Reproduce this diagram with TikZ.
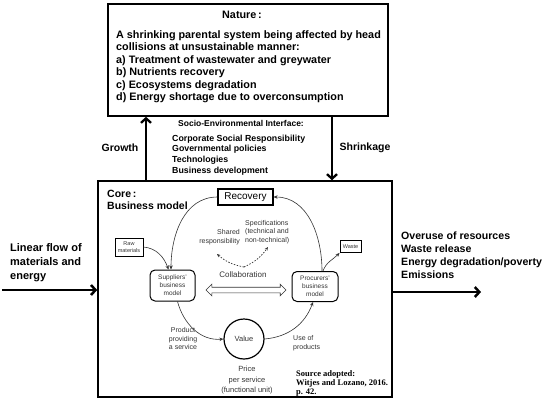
\documentclass[tikz,border=0pt]{standalone}
\usepackage{fontspec}
\setmainfont{Liberation Sans}
\newfontfamily\srcfont{Liberation Serif}
\usetikzlibrary{arrows.meta,shapes.arrows,calc}
\begin{document}
\begin{tikzpicture}[x=1pt,y=-1pt,
  bigbox/.style={draw, line width=1.6pt, inner sep=0pt},
  bigarrow/.style={line width=2.3pt, -{Straight Barb[length=4.5pt,width=10pt]}},
  smalltxt/.style={text=black!80, inner sep=0pt},
  thinarrow/.style={draw=black!80, line width=0.6pt, -{Stealth[length=4pt,width=3.5pt]}},
  rbox/.style={draw=black, line width=1pt, rounded corners=5pt, align=center, inner sep=0pt,
    font=\fontsize{6.5}{8}\selectfont, text=black!80},
  sbox/.style={draw=black, line width=0.9pt, align=center, inner sep=0pt,
    font=\fontsize{5.5}{6.5}\selectfont, text=black!80},
  dasharrow/.style={draw=black!80, line width=0.7pt, dashed, dash pattern=on 1.5pt off 1.5pt,
    -{Stealth[length=3.5pt,width=3pt]}}
]
\useasboundingbox (0,0) rectangle (550,408);

% Nature box
\node[bigbox, minimum width=280pt, minimum height=112pt] (nature) at (248,60) {};
\node[font=\fontsize{10.8}{12.4}\selectfont\bfseries] (naturetitle) at (242,15) {Nature\,:};
\node[anchor=north west, align=left, inner sep=0pt, font=\fontsize{10.8}{12.4}\selectfont\bfseries]
  (naturetext) at (116,30.5)
  {A shrinking parental system being affected by head\\
   collisions at unsustainable manner:\\
   a) Treatment of wastewater and greywater\\
   b) Nutrients recovery\\
   c) Ecosystems degradation\\
   d) Energy shortage due to overconsumption};

% Core box
\node[bigbox, minimum width=294pt, minimum height=216pt] (core) at (245,289) {};
\node[anchor=north west, align=left, inner sep=0pt, font=\fontsize{10.5}{11.5}\selectfont\bfseries]
  (coretitle) at (107,190) {Core\,:\\Business model};

% Interface
\node[font=\fontsize{8.5}{10}\selectfont\bfseries] (socio) at (241,123) {Socio-Environmental Interface:};
\node[anchor=north west, align=left, inner sep=0pt, font=\fontsize{8.8}{10.9}\selectfont\bfseries]
  (sociolist) at (172,134.5)
  {Corporate Social Responsibility\\Governmental policies\\Technologies\\Business development};
\node[font=\fontsize{10.5}{12}\selectfont\bfseries] (growth) at (120,148) {Growth};
\node[font=\fontsize{10.5}{12}\selectfont\bfseries] (shrink) at (365,148) {Shrinkage};

\coordinate (gx) at (146,150);
\coordinate (sx) at (332,150);
\draw[bigarrow] (core.north -| gx) -- (nature.south -| gx);
\draw[bigarrow] (nature.south -| sx) -- (core.north -| sx);

% Left and right flows
\node[anchor=north west, align=left, inner sep=0pt, font=\fontsize{11}{14}\selectfont\bfseries]
  (lintext) at (10,243) {Linear flow of\\materials and\\energy};
\node[anchor=north west, align=left, inner sep=0pt, font=\fontsize{10.6}{13}\selectfont\bfseries]
  (outtext) at (401,232) {Overuse of resources\\Waste release\\Energy degradation/poverty\\Emissions};
\coordinate (linstart) at (2,290);
\coordinate (outend) at (481,292);
\draw[bigarrow, line width=2.5pt] (linstart) -- (linstart -| core.west);
\draw[bigarrow, line width=2.5pt] (outend -| core.east) -- (outend);

% Inner model
\node[draw, line width=1.2pt, minimum width=55pt, minimum height=16pt, inner sep=0pt,
  font=\fontsize{10}{12}\selectfont] (rec) at (245.5,197) {Recovery};
\node[rbox, minimum width=45pt, minimum height=31pt] (sup) at (172.5,285.5)
  {Suppliers'\\business\\model};
\node[rbox, minimum width=46pt, minimum height=30pt] (pro) at (315,286.5)
  {Procurers'\\business\\model};
\node[draw, circle, line width=1.2pt, minimum size=40pt, inner sep=0pt,
  font=\fontsize{7.5}{9}\selectfont, text=black!80] (val) at (244,339) {Value};
\node[sbox, minimum width=28pt, minimum height=18pt] (raw) at (129,247) {Raw\\materials};
\node[sbox, minimum width=21pt, minimum height=12pt] (waste) at (350.5,246.5) {Waste};

\draw[thinarrow] (rec.west) to[out=180,in=90] ([xshift=-1.5pt]sup.north);
\draw[thinarrow] (raw.east) to[out=-5,in=110] ([xshift=-4pt]sup.north);
\draw[thinarrow] ([xshift=7pt]pro.north) to[out=90,in=0] (rec.east);
\draw[thinarrow] ([xshift=8pt]pro.north) to[out=70,in=225] (waste.south west);
\draw[thinarrow] ([xshift=5pt]sup.south) to[out=-75,in=185] (val.west);
\draw[thinarrow] (val.east) to[out=5,in=-110] ([xshift=-2pt]pro.south);

% Collaboration
\node[smalltxt, font=\fontsize{8}{9}\selectfont] (collab) at (243,275) {Collaboration};
\node[double arrow, draw=black!80, line width=0.6pt, fill=white, minimum height=80pt,
  minimum width=11pt, inner sep=2.5pt, double arrow head extend=3pt] (darrow) at (246,290) {};
\node[smalltxt, anchor=east, align=right, font=\fontsize{7}{8.5}\selectfont] (shared) at (240,237)
  {Shared\\responsibility};
\node[smalltxt, anchor=west, align=left, font=\fontsize{7}{8.5}\selectfont] (spec) at (245,232)
  {Specifications\\(technical and\\non-technical)};
\coordinate (dstart) at (244,267);
\coordinate (dshared) at (217,254);
\coordinate (dspec) at (268,247);
\draw[dasharrow] (dstart) to[bend left=15] (dshared);
\draw[dasharrow] (dstart) to[bend right=15] (dspec);

% Labels around value
\node[smalltxt, align=center, font=\fontsize{7}{8.5}\selectfont] (prodtxt) at (183,338.5)
  {Product\\providing\\a service};
\node[smalltxt, anchor=west, align=left, font=\fontsize{7}{8.5}\selectfont] (usetxt) at (293,343)
  {Use of\\products};
\node[smalltxt, align=center, font=\fontsize{7.5}{10.5}\selectfont] (price) at (247,380.5)
  {Price\\per service\\(functional unit)};
\node[anchor=north west, align=left, inner sep=0pt, font=\srcfont\fontsize{8.5}{9}\selectfont\bfseries]
  (source) at (296,370.5) {Source adopted:\\Witjes and Lozano, 2016.\\p. 42.};
\end{tikzpicture}
\end{document}
